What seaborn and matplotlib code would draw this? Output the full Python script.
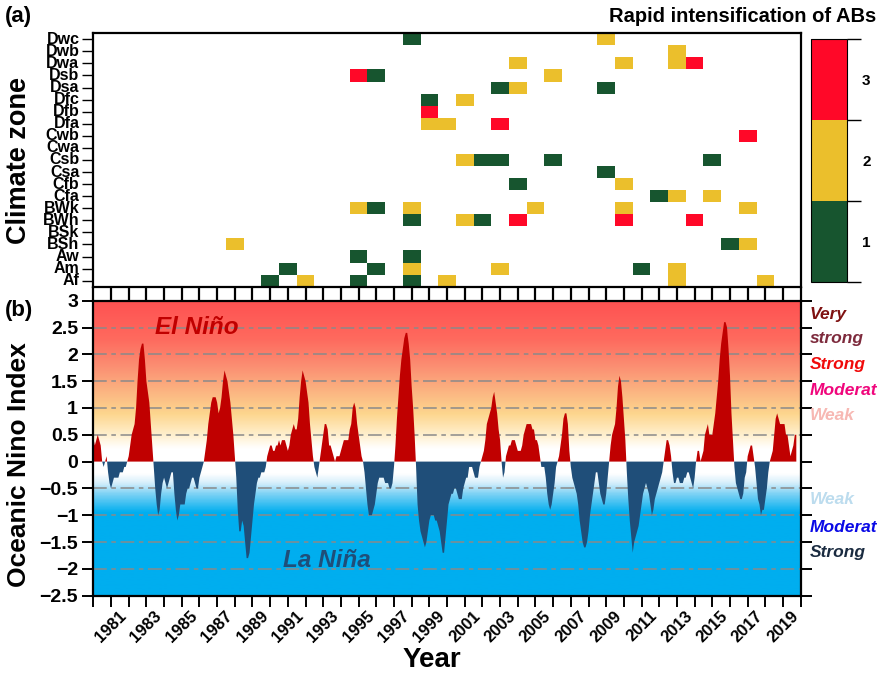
import numpy as np
import pandas as pd
import matplotlib
matplotlib.use("Agg")
import matplotlib.pyplot as plt
from matplotlib.colors import ListedColormap, LinearSegmentedColormap
import seaborn as sns

# Climate zones (top to bottom) and rapid-intensification cells
zones = ["Dwc", "Dwb", "Dwa", "Dsb", "Dsa", "Dfc", "Dfb", "Dfa", "Cwb", "Cwa", "Csb",
         "Csa", "Cfb", "Cfa", "BWk", "BWh", "BSk", "BSh", "Aw", "Am", "Af"]
years = list(range(1980, 2021))

ri_zone = ["Dwc", "Dwc", "Dwb", "Dwa", "Dwa", "Dwa", "Dwa", "Dsb", "Dsb", "Dsb",
           "Dsa", "Dsa", "Dsa", "Dfc", "Dfc", "Dfb", "Dfa", "Dfa", "Dfa", "Cwb",
           "Csb", "Csb", "Csb", "Csb", "Csb", "Csa", "Cfb", "Cfb", "Cfa", "Cfa", "Cfa",
           "BWk", "BWk", "BWk", "BWk", "BWk", "BWk",
           "BWh", "BWh", "BWh", "BWh", "BWh", "BWh",
           "BSh", "BSh", "BSh", "Aw", "Aw",
           "Am", "Am", "Am", "Am", "Am", "Am",
           "Af", "Af", "Af", "Af", "Af", "Af", "Af"]
ri_year = [1998, 2009, 2013, 2004, 2010, 2013, 2014, 1995, 1996, 2006,
           2003, 2004, 2009, 1999, 2001, 1999, 1999, 2000, 2003, 2017,
           2001, 2002, 2003, 2006, 2015, 2009, 2004, 2010, 2012, 2013, 2015,
           1995, 1996, 1998, 2005, 2010, 2017,
           1998, 2001, 2002, 2004, 2010, 2014,
           1988, 2016, 2017, 1995, 1998,
           1991, 1996, 1998, 2003, 2011, 2013,
           1990, 1992, 1995, 1998, 2000, 2013, 2018]
ri_level = [1, 2, 2, 2, 2, 2, 3, 3, 1, 2,
            1, 2, 1, 1, 2, 3, 2, 2, 3, 3,
            2, 1, 1, 1, 1, 1, 1, 2, 1, 2, 2,
            2, 1, 2, 2, 2, 2,
            1, 2, 1, 3, 3, 3,
            2, 1, 2, 1, 1,
            1, 1, 2, 2, 1, 2,
            1, 2, 1, 1, 2, 2, 2]

# Oceanic Nino Index, 12 running seasons per year
oni_1980s = [0.6, 0.5, 0.45, 0.3, 0.4, 0.5, 0.4, 0.3, 0.0, -0.1, 0.0, 0.1,
             -0.2, -0.4, -0.5, -0.4, -0.3, -0.3, -0.3, -0.3, -0.2, -0.2, -0.2, -0.1,
             -0.1, 0.0, 0.1, 0.3, 0.5, 0.6, 0.7, 1.0, 1.5, 1.9, 2.1, 2.2,
             2.2, 1.9, 1.5, 1.3, 1.1, 0.7, 0.3, -0.1, -0.5, -0.8, -1.0, -0.9,
             -0.6, -0.4, -0.3, -0.4, -0.5, -0.4, -0.3, -0.2, -0.2, -0.6, -0.9, -1.1,
             -1.0, -0.8, -0.8, -0.8, -0.8, -0.6, -0.5, -0.5, -0.4, -0.3, -0.3, -0.4,
             -0.5, -0.5, -0.3, -0.2, -0.1, 0.0, 0.2, 0.4, 0.7, 0.9, 1.1, 1.2,
             1.2, 1.2, 1.1, 0.9, 1.0, 1.2, 1.5, 1.7, 1.6, 1.5, 1.3, 1.1,
             0.8, 0.5, 0.1, -0.3, -0.9, -1.3, -1.3, -1.1, -1.2, -1.5, -1.8, -1.8,
             -1.7, -1.4, -1.1, -0.8, -0.6, -0.4, -0.3, -0.3, -0.2, -0.2, -0.2, -0.1]
oni_1990s = [0.1, 0.2, 0.3, 0.3, 0.2, 0.2, 0.3, 0.3, 0.4, 0.3, 0.4, 0.4,
             0.4, 0.3, 0.2, 0.3, 0.5, 0.6, 0.7, 0.6, 0.6, 0.8, 1.2, 1.5,
             1.7, 1.6, 1.5, 1.3, 1.1, 0.7, 0.4, 0.1, -0.1, -0.2, -0.3, -0.1,
             0.1, 0.3, 0.5, 0.7, 0.7, 0.6, 0.3, 0.3, 0.2, 0.1, 0.0, 0.1,
             0.1, 0.1, 0.2, 0.3, 0.4, 0.4, 0.4, 0.4, 0.6, 0.7, 1.0, 1.1,
             1.0, 0.7, 0.5, 0.3, 0.1, 0.0, -0.2, -0.5, -0.8, -1.0, -1.0, -1.0,
             -0.9, -0.8, -0.6, -0.4, -0.3, -0.3, -0.3, -0.3, -0.4, -0.4, -0.4, -0.5,
             -0.5, -0.4, -0.1, 0.3, 0.8, 1.2, 1.6, 1.9, 2.1, 2.3, 2.4, 2.4,
             2.2, 1.9, 1.4, 1.0, 0.5, -0.1, -0.8, -1.1, -1.3, -1.4, -1.5, -1.6,
             -1.5, -1.3, -1.1, -1.0, -1.0, -1.0, -1.1, -1.1, -1.2, -1.3, -1.5, -1.7]
oni_2000s = [-1.7, -1.4, -1.1, -0.8, -0.7, -0.6, -0.6, -0.5, -0.5, -0.6, -0.7, -0.7,
             -0.7, -0.5, -0.4, -0.3, -0.3, -0.1, -0.1, -0.1, -0.2, -0.3, -0.3, -0.3,
             -0.1, 0.0, 0.1, 0.2, 0.4, 0.7, 0.8, 0.9, 1.0, 1.2, 1.3, 1.1,
             0.9, 0.6, 0.4, 0.0, -0.3, -0.2, 0.1, 0.2, 0.3, 0.3, 0.4, 0.4,
             0.4, 0.3, 0.2, 0.2, 0.2, 0.3, 0.5, 0.6, 0.7, 0.7, 0.7, 0.7,
             0.6, 0.6, 0.4, 0.4, 0.3, 0.1, -0.1, -0.1, -0.1, -0.3, -0.6, -0.8,
             -0.9, -0.8, -0.6, -0.4, -0.1, 0.0, 0.1, 0.3, 0.5, 0.8, 0.9, 0.9,
             0.7, 0.2, -0.1, -0.3, -0.4, -0.5, -0.6, -0.8, -1.1, -1.3, -1.5, -1.6,
             -1.6, -1.5, -1.3, -1.0, -0.8, -0.6, -0.4, -0.2, -0.2, -0.4, -0.6, -0.7,
             -0.8, -0.8, -0.6, -0.3, 0.0, 0.3, 0.5, 0.6, 0.7, 1.0, 1.4, 1.6]
oni_2010s = [1.5, 1.2, 0.8, 0.4, -0.2, -0.7, -1.1, -1.4, -1.7, -1.5, -1.4, -1.3,
             -1.2, -1.0, -0.8, -0.6, -0.5, -0.4, -0.5, -0.6, -0.8, -1.0, -0.9, -0.7,
             -0.6, -0.5, -0.4, -0.3, -0.2, 0.0, 0.2, 0.4, 0.4, 0.3, 0.1, -0.2,
             -0.4, -0.4, -0.3, -0.3, -0.4, -0.4, -0.4, -0.3, -0.3, -0.2, -0.2, -0.3,
             -0.4, -0.5, -0.3, 0.0, 0.2, 0.2, 0.0, 0.1, 0.2, 0.5, 0.6, 0.7,
             0.5, 0.5, 0.5, 0.7, 0.9, 1.2, 1.5, 1.9, 2.2, 2.4, 2.6, 2.6,
             2.5, 2.1, 1.6, 0.9, 0.4, -0.1, -0.4, -0.5, -0.6, -0.7, -0.7, -0.6,
             -0.3, -0.2, 0.1, 0.2, 0.3, 0.3, 0.1, -0.1, -0.4, -0.7, -0.8, -1.0,
             -0.9, -0.9, -0.7, -0.5, -0.2, 0.0, 0.1, 0.2, 0.5, 0.8, 0.9, 0.8,
             0.7, 0.7, 0.7, 0.7, 0.5, 0.5, 0.3, 0.1, 0.2, 0.3, 0.5, 0.5]

oni = np.array(oni_1980s + oni_1990s + oni_2000s + oni_2010s)
oni_time = 1980 + (np.arange(len(oni)) - 2) / 12.0

sns.set_style("ticks", {"axes.edgecolor": "black", "xtick.color": "black",
                        "ytick.color": "black", "text.color": "black",
                        "axes.labelcolor": "black"})
plt.rcParams["font.family"] = ["Liberation Sans", "DejaVu Sans"]
plt.rcParams["font.weight"] = "bold"

fig = plt.figure(figsize=(8.78, 6.73), dpi=100)
ax1 = fig.add_axes([0.1063, 0.574, 0.8057, 0.3766])
cax = fig.add_axes([0.9233, 0.581, 0.0412, 0.3615])
ax2 = fig.add_axes([0.1063, 0.1149, 0.8057, 0.4383])

# ---- (a) heatmap of rapid intensification
grid = pd.DataFrame(np.nan, index=zones, columns=years)
for z, y, lv in zip(ri_zone, ri_year, ri_level):
    grid.loc[z, y] = lv

ri_cmap = ListedColormap(["#17552f", "#ebbf2c", "#ff0828"])
sns.heatmap(grid, ax=ax1, cmap=ri_cmap, vmin=0.5, vmax=3.5, cbar_ax=cax,
            xticklabels=False, yticklabels=zones)
ax1.set_xlim(0.5, 40.5)
for s in ax1.spines.values():
    s.set_visible(True)
    s.set_linewidth(1.6)
ax1.set_xticks(np.arange(41) + 0.5)
ax1.set_xticklabels([])
ax1.tick_params(axis="x", length=10, width=1.6, direction="out")
ax1.tick_params(axis="y", length=8, width=1.0, direction="out", pad=2, labelsize=11.5)
ax1.set_yticklabels(zones, rotation=0, fontweight="bold")
ax1.set_xlabel("")
ax1.set_ylabel("")

cbar = ax1.collections[0].colorbar
cbar.set_ticks([1, 2, 3])
cbar.set_ticklabels(["1", "2", "3"])
cbar.outline.set_linewidth(0.8)
cax.set_yticks([0.5, 1.5, 2.5, 3.5], minor=True)
cax.tick_params(axis="y", which="major", length=0, pad=11, labelsize=11)
cax.tick_params(axis="y", which="minor", length=10, width=1.0)

# ---- (b) Oceanic Nino Index
bg_stops = [(-2.5, "#00aeef"), (-0.95, "#00aeef"), (-0.6, "#7dd2f5"), (-0.4, "#d4eefb"),
            (-0.22, "#ffffff"), (0.25, "#ffffff"), (0.5, "#fff0cf"), (0.9, "#fdd68e"),
            (1.3, "#fbb682"), (1.8, "#fb8e72"), (2.3, "#fe6a5e"), (3.0, "#ff5252")]
bg_cmap = LinearSegmentedColormap.from_list(
    "enso_bg", [((v + 2.5) / 5.5, c) for v, c in bg_stops])
ax2.imshow(np.linspace(-2.5, 3, 600).reshape(-1, 1), extent=[1980, 2020, -2.5, 3],
           origin="lower", aspect="auto", cmap=bg_cmap, vmin=-2.5, vmax=3, zorder=0)

for lvl in [-2, -1.5, -1, -0.5, 0.5, 1, 1.5, 2, 2.5]:
    ax2.axhline(lvl, color="#8a8a8a", lw=1.1, ls=(0, (9, 3, 3, 3)), zorder=1)

ax2.fill_between(oni_time, oni, 0, where=oni >= 0, interpolate=True,
                 color="#c00000", lw=0, zorder=2)
ax2.fill_between(oni_time, oni, 0, where=oni <= 0, interpolate=True,
                 color="#1f4e79", lw=0, zorder=2)

ax2.set_xlim(1980, 2020)
ax2.set_ylim(-2.5, 3)
ax2.set_xticks(years)
ax2.set_xticklabels([str(y) if y % 2 == 1 else "" for y in years],
                    rotation=45, ha="center", fontsize=12, fontweight="bold")
yt = np.arange(-2.5, 3.01, 0.5)
ax2.set_yticks(yt)
ax2.set_yticklabels([("%g" % v).replace("-", "\u2212") for v in yt],
                    fontsize=14, fontweight="bold")
ax2.tick_params(axis="x", length=8, width=1.4, pad=1)
ax2.tick_params(axis="y", length=8, width=1.4, pad=3)
ax2.tick_params(axis="y", which="both", right=True)
for s in ax2.spines.values():
    s.set_linewidth(1.6)

ax2.text(1983.5, 2.5, "El Niño", color="#c00000", fontsize=17.5, fontweight="bold",
         fontstyle="italic", ha="left", va="center", zorder=3)
ax2.text(1990.7, -1.85, "La Niña", color="#1f4e79", fontsize=17.5, fontweight="bold",
         fontstyle="italic", ha="left", va="center", zorder=3)

ax2.set_xlabel("")
ax2.set_ylabel("")

# ---- figure texts
fig.text(0.006, 0.975, "(a)", fontsize=16, fontweight="bold", va="center")
fig.text(0.006, 0.539, "(b)", fontsize=16, fontweight="bold", va="center")
fig.text(0.998, 0.975, "Rapid intensification of ABs", fontsize=14.5, fontweight="bold",
         ha="right", va="center")
fig.text(0.022, 0.762, "Climate zone", fontsize=19.5, fontweight="bold", rotation=90,
         ha="center", va="center")
fig.text(0.022, 0.31, "Oceanic Nino Index", fontsize=19, fontweight="bold", rotation=90,
         ha="center", va="center")
fig.text(0.492, 0.019, "Year", fontsize=20, fontweight="bold", ha="center", va="center")

side_labels = [("Very", 315, "#7f1111"), ("strong", 338, "#7d2a3c"),
               ("Strong", 364, "#f00a0a"), ("Moderate", 390, "#f0067c"),
               ("Weak", 416, "#f7b8b3"), ("Weak", 499, "#bcdcee"),
               ("Moderate", 528, "#0a0ae6"), ("Strong", 553, "#1a2b40")]
for txt, ypx, col in side_labels:
    fig.text(0.9225, 1 - ypx / 673, txt, color=col, fontsize=12.5, fontweight="bold",
             fontstyle="italic", ha="left", va="center")

fig.savefig("out.png", dpi=100)
